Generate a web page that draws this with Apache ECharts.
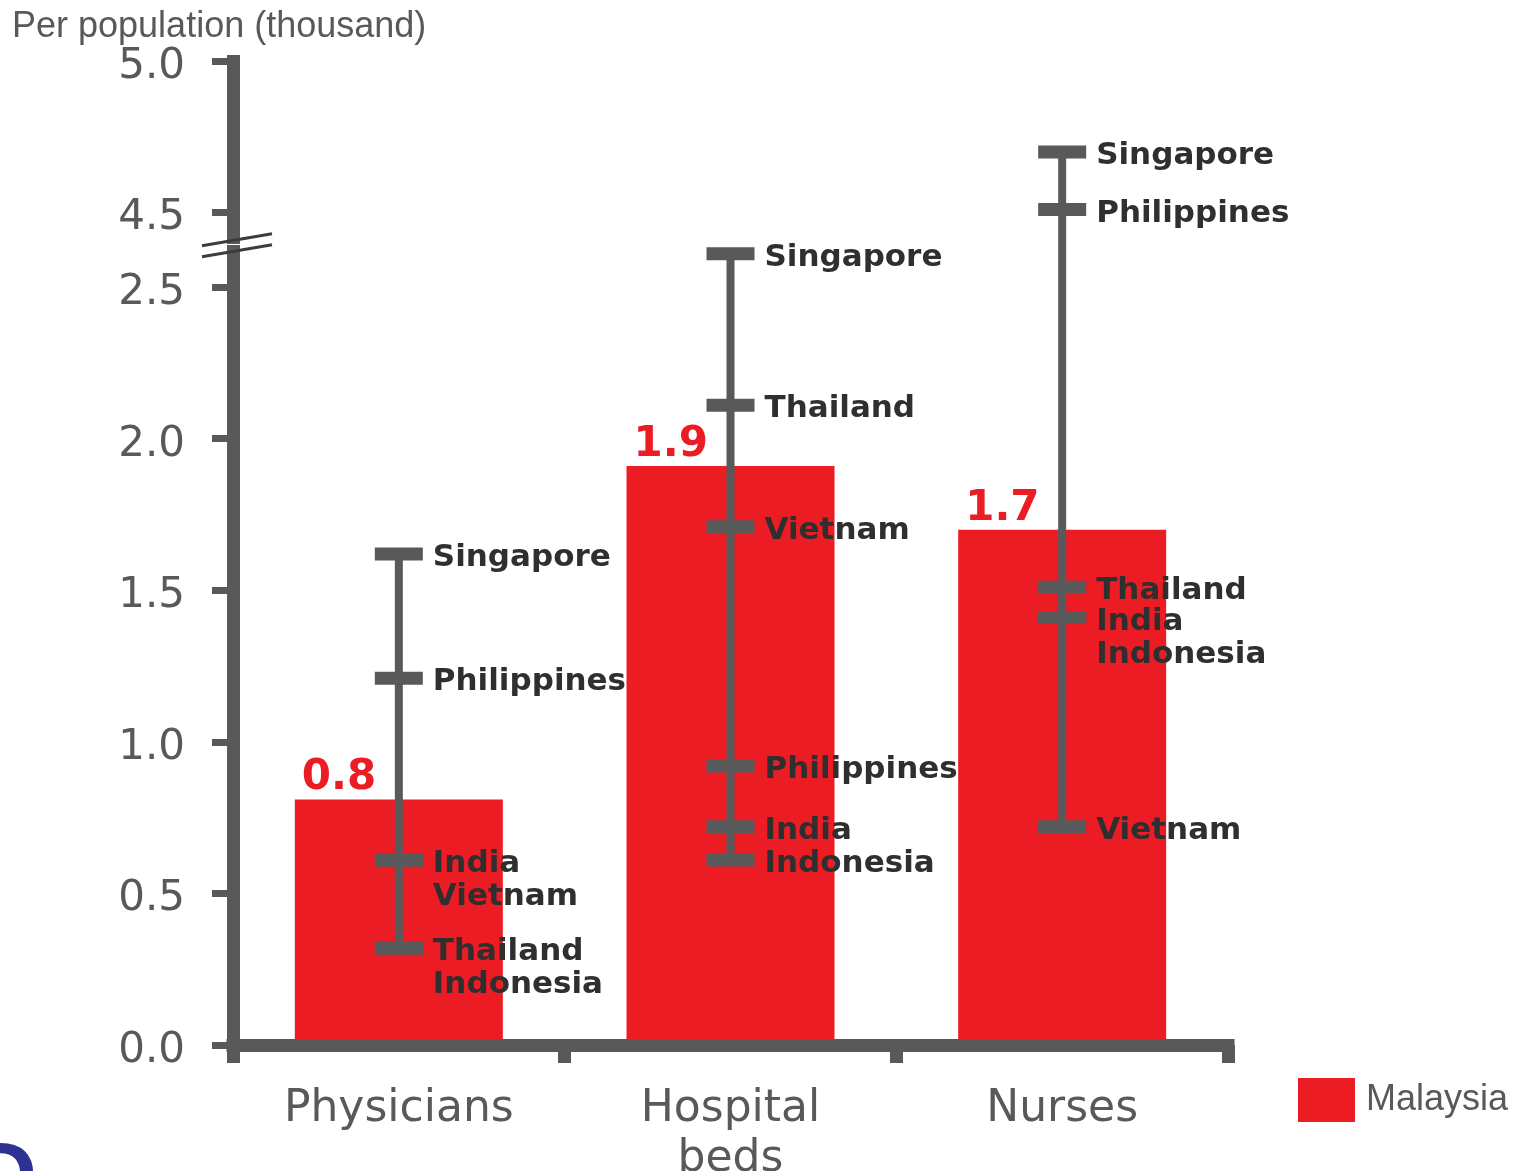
<!DOCTYPE html>
<html><head><meta charset="utf-8">
<script src="https://cdn.jsdelivr.net/npm/echarts@6.0.0/dist/echarts.min.js"></script>
<style>html,body{margin:0;padding:0;background:#fff}#c{width:1515px;height:1171px}</style>
</head><body><div id="c"></div>
<script>
// ---- data ----
const categories = ['Physicians', 'Hospital\nbeds', 'Nurses'];
const malaysia = [0.81, 1.91, 1.70];
const peerCountries = ['Singapore', 'Philippines', 'Thailand', 'India', 'Vietnam', 'Indonesia'];
const physiciansPeers = [1.62, 1.21, 0.32, 0.61, 0.61, 0.32];
const hospitalBedsPeers = [2.61, 0.92, 2.11, 0.72, 1.71, 0.61];
const nursesPeers = [4.70, 4.51, 1.51, 1.41, 0.72, 1.41];
const yTickValues = [0, 0.5, 1.0, 1.5, 2.0, 2.5, 4.5, 5.0];
const yBreakStart = 2.62;
const yBreakEnd = 4.42;
const yBreakGap = 0.046;

// ---- build series data ----
const peerSets = [physiciansPeers, hospitalBedsPeers, nursesPeers];
const rangeData = peerSets.map((vals, i) => [i, Math.min(...vals), Math.max(...vals)]);
const peerData = [];
peerSets.forEach((vals, i) => {
  const seen = {};
  vals.forEach((v, k) => {
    const key = v.toFixed(2);
    const slot = seen[key] || 0;
    seen[key] = slot + 1;
    peerData.push({ name: peerCountries[k], value: [i, v, slot] });
  });
});

const AXIS = '#58595b';
const RED = '#ec1c24';

function renderRange(params, api) {
  const lo = api.coord([api.value(0), api.value(1)]);
  const hi = api.coord([api.value(0), api.value(2)]);
  return { type: 'line', shape: { x1: lo[0], y1: lo[1], x2: hi[0], y2: hi[1] },
           style: { stroke: AXIS, lineWidth: 8 } };
}
function renderPeer(params, api) {
  const p = api.coord([api.value(0), api.value(1)]);
  const slot = api.value(2);
  const name = peerData[params.dataIndex].name;
  return { type: 'group', children: [
    { type: 'rect', shape: { x: p[0] - 24, y: p[1] - 6.5, width: 48, height: 13 }, style: { fill: AXIS } },
    { type: 'text', x: p[0] + 34, y: p[1] + 4 + slot * 33,
      style: { text: name, fill: '#2f2f2f', font: 'bold 31px "DejaVu Sans"', align: 'left', verticalAlign: 'middle' } }
  ] };
}
function renderBreak(params, api) {
  const x = params.coordSys.x;
  const yLo = api.coord([0, api.value(1)])[1];
  const yHi = api.coord([0, api.value(2)])[1];
  const m = (yLo + yHi) / 2 + 2;
  const st = { stroke: '#3c3c3c', lineWidth: 3 };
  return { type: 'group', children: [
    { type: 'line', shape: { x1: x - 31, y1: m, x2: x + 39, y2: m - 12 }, style: st },
    { type: 'line', shape: { x1: x - 31, y1: m + 11, x2: x + 39, y2: m - 1 }, style: st }
  ] };
}

const chart = echarts.init(document.getElementById('c'), null, { renderer: 'canvas' });
chart.setOption({
  animation: false,
  backgroundColor: '#fff',
  title: {
    text: 'Per population (thousand)', left: 12, top: 9, padding: 0,
    textStyle: { fontFamily: 'Liberation Sans', fontSize: 36, fontWeight: 'normal', color: AXIS }
  },
  legend: {
    data: ['Malaysia'], left: 1298, top: 1078, padding: 0, itemWidth: 57, itemHeight: 44, icon: 'rect',
    textStyle: { fontFamily: 'Liberation Sans', fontSize: 36, color: AXIS, padding: [0, 0, 0, 6] }
  },
  grid: { left: 233, right: 287, top: 61, bottom: 126, containLabel: false, outerBoundsMode: 'none' },
  xAxis: {
    type: 'category', data: categories, boundaryGap: true, z: 5,
    axisLine: { lineStyle: { color: AXIS, width: 13, cap: 'square' } },
    axisTick: { show: true, interval: 0, length: 18, lineStyle: { color: AXIS, width: 13 } },
    axisLabel: { interval: 0, margin: 40, fontFamily: 'DejaVu Sans', fontSize: 44, color: AXIS, lineHeight: 50 },
    splitLine: { show: false }
  },
  yAxis: {
    type: 'value', min: 0, max: 5, interval: 0.5, z: 5,
    breaks: [{ start: yBreakStart, end: yBreakEnd, gap: yBreakGap }],
    breakArea: { show: false },
    axisLine: { show: true, lineStyle: { color: AXIS, width: 13, cap: 'square' } },
    axisTick: { show: true, length: 21, customValues: yTickValues, lineStyle: { color: AXIS, width: 7 } },
    axisLabel: {
      customValues: yTickValues, margin: 48,
      formatter: v => '{t|' + Number(v).toFixed(1) + '}',
      rich: { t: { fontFamily: 'DejaVu Sans', fontSize: 42, color: AXIS, padding: [12, 0, 0, 0] } }
    },
    splitLine: { show: false }
  },
  series: [
    { type: 'bar', name: 'Malaysia', data: malaysia, barWidth: 208, z: 1,
      itemStyle: { color: RED },
      label: { show: true, position: [7, 0], align: 'left', verticalAlign: 'bottom',
               formatter: p => p.value.toFixed(1), color: RED, fontFamily: 'DejaVu Sans',
               fontWeight: 'bold', fontSize: 42 } },
    { type: 'custom', name: 'range', data: rangeData, renderItem: renderRange, z: 6, silent: true },
    { type: 'custom', name: 'peers', data: peerData, renderItem: renderPeer, z: 7, silent: true },
    { type: 'custom', name: 'break', data: [[0, yBreakStart, yBreakEnd]], renderItem: renderBreak, z: 10, silent: true }
  ],
  graphic: [
    { type: 'text', x: -28, y: 1136, silent: true,
      style: { text: 'D', font: 'bold 90px "Liberation Sans"', fill: '#2e3192', verticalAlign: 'top' } }
  ]
});
</script></body></html>
